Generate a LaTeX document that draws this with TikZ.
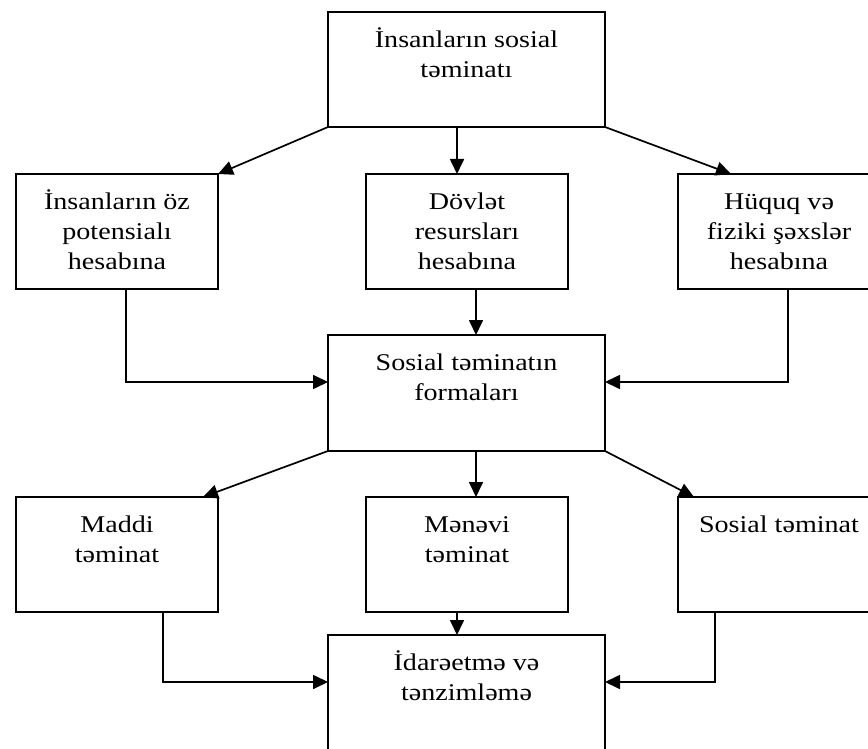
\documentclass[tikz,border=0pt]{standalone}
\usepackage{fontspec}
\setmainfont{Liberation Serif}[FakeStretch=1.17]
\usetikzlibrary{arrows.meta}
\tikzset{
  box/.style={draw, line width=1.7pt, inner sep=0pt, outer sep=0pt},
  txt/.style={inner sep=0pt, outer sep=0pt, anchor=base, font={\fontsize{24}{30}\selectfont}},
  arr/.style={line width=1.7pt, -{Triangle[length=15pt,width=14pt]}},
}
\newcommand{\lines}[1]{\begin{tabular}[t]{@{}c@{}}#1\end{tabular}}
\begin{document}
\begin{tikzpicture}[x=1pt,y=-1pt]
\useasboundingbox (0,0) rectangle (868,749);
\clip (0,0) rectangle (868,749);
% boxes
\node[box, minimum width=277, minimum height=115] (top) at (466.5,69.5) {};
\node[box, minimum width=202, minimum height=115] (L1) at (117,231.5) {};
\node[box, minimum width=202, minimum height=115] (M1) at (467,231.5) {};
\node[box, minimum width=202, minimum height=115] (R1) at (779,231.5) {};
\node[box, minimum width=277, minimum height=116] (Mid) at (466.5,393) {};
\node[box, minimum width=202, minimum height=115] (L2) at (117,554.5) {};
\node[box, minimum width=202, minimum height=115] (M2) at (467,554.5) {};
\node[box, minimum width=202, minimum height=115] (R2) at (779,554.5) {};
\node[box, minimum width=277, minimum height=135] (Bot) at (466.5,702.5) {};
% texts
\node[txt] (topT) at (466.5,48) {\lines{İnsanların sosial\\təminatı}};
\node[txt] (L1T) at (117,209) {\lines{İnsanların öz\\potensialı\\hesabına}};
\node[txt] (M1T) at (467,209) {\lines{Dövlət\\resursları\\hesabına}};
\node[txt] (R1T) at (779,209) {\lines{Hüquq və\\fiziki şəxslər\\hesabına}};
\node[txt] (MidT) at (466.5,370) {\lines{Sosial təminatın\\formaları}};
\node[txt] (L2T) at (117,532) {\lines{Maddi\\təminat}};
\node[txt] (M2T) at (467,532) {\lines{Mənəvi\\təminat}};
\node[txt] (R2T) at (779,532) {\lines{Sosial təminat}};
\node[txt] (BotT) at (466.5,670) {\lines{İdarəetmə və\\tənzimləmə}};
% connectors
\draw[arr] (top.south west) -- (L1.north east);
\draw[arr] ([xshift=-10pt]M1.north |- top.south) -- ([xshift=-10pt]M1.north);
\draw[arr] (top.south east) -- ([xshift=53pt]R1.north west);
\draw[arr] ([xshift=9pt]L1.south) |- ([yshift=11pt]Mid.west);
\draw[arr] ([xshift=9pt]M1.south) -- ([xshift=9pt]M1.south |- Mid.north);
\draw[arr] ([xshift=9pt]R1.south) |- ([yshift=11pt]Mid.east);
\draw[arr] (Mid.south west) -- ([xshift=-15pt]L2.north east);
\draw[arr] ([xshift=9pt]M2.north |- Mid.south) -- ([xshift=9pt]M2.north);
\draw[arr] (Mid.south east) -- ([xshift=16pt]R2.north west);
\draw[arr] ([xshift=46pt]L2.south) |- ([yshift=20.5pt]Bot.west);
\draw[arr] ([xshift=-10pt]M2.south) -- ([xshift=-10pt]M2.south |- Bot.north);
\draw[arr] ([xshift=-64pt]R2.south) |- ([yshift=20.5pt]Bot.east);
\end{tikzpicture}
\end{document}
